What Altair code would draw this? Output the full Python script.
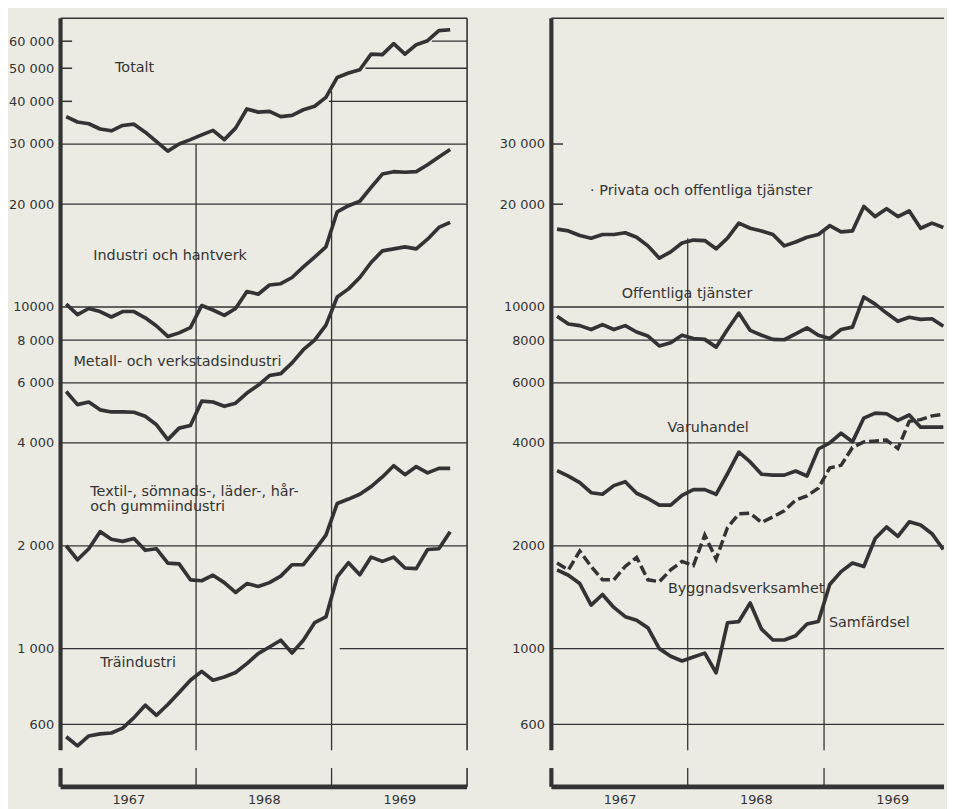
import altair as alt
import pandas as pd

# ---------------- data (monthly, Jan 1967 - Nov 1969) ----------------
n_months = 35
months = [1967 + (i + 0.5) / 12 for i in range(n_months)]

totalt = [36100, 34800, 34400, 33200, 32800, 34000, 34300, 32500, 30500, 28600, 30000, 30900,
          31900, 32900, 30900, 33400, 38000, 37200, 37400, 36100, 36400, 37800, 38700, 41100,
          47000, 48400, 49500, 55000, 54800, 59000, 55000, 58600, 60200, 64400, 64800]
industri = [10200, 9500, 9900, 9700, 9350, 9700, 9700, 9300, 8800, 8200, 8400, 8700,
            10100, 9800, 9450, 9900, 11100, 10900, 11600, 11700, 12200, 13100, 14000, 15000,
            19000, 19800, 20400, 22400, 24500, 24900, 24800, 24900, 26100, 27500, 28900]
metall = [5660, 5180, 5270, 5000, 4930, 4930, 4920, 4790, 4520, 4090, 4420, 4500,
          5300, 5270, 5120, 5230, 5600, 5900, 6300, 6380, 6860, 7500, 8000, 8850,
          10700, 11300, 12200, 13500, 14600, 14800, 15000, 14800, 15800, 17100, 17700]
textil = [2000, 1820, 1960, 2200, 2090, 2060, 2100, 1940, 1960, 1780, 1770, 1590,
          1580, 1640, 1560, 1460, 1550, 1520, 1560, 1630, 1760, 1760, 1940, 2150,
          2660, 2740, 2830, 2980, 3180, 3430, 3230, 3410, 3270, 3370, 3370]
tra = [552, 519, 555, 563, 566, 585, 628, 683, 638, 686, 744, 808,
       858, 808, 826, 851, 904, 967, 1011, 1058, 971, 1058, 1191, 1238,
       1621, 1784, 1645, 1853, 1800, 1853, 1722, 1715, 1950, 1960, 2200]

privata = [16900, 16700, 16200, 15900, 16300, 16300, 16500, 16000, 15100, 13900, 14500, 15400,
           15700, 15650, 14800, 15900, 17600, 17000, 16700, 16300, 15100, 15500, 16000, 16300,
           17300, 16600, 16700, 19700, 18400, 19400, 18400, 19100, 17000, 17600, 17100]
offentliga = [9390, 8920, 8820, 8590, 8880, 8590, 8820, 8450, 8220, 7690, 7860, 8270,
              8090, 8040, 7630, 8590, 9600, 8540, 8270, 8040, 8020, 8340, 8690, 8270,
              8090, 8590, 8730, 10700, 10200, 9600, 9080, 9330, 9200, 9240, 8780]
varuhandel = [3320, 3200, 3060, 2860, 2830, 3000, 3080, 2850, 2750, 2630, 2630, 2810,
              2920, 2920, 2830, 3250, 3760, 3520, 3240, 3220, 3220, 3310, 3200, 3840,
              4000, 4270, 4030, 4730, 4890, 4870, 4660, 4830, 4450, 4450, 4450]
bygg = [1780, 1700, 1930, 1740, 1590, 1590, 1740, 1850, 1590, 1570, 1700, 1800,
        1750, 2150, 1830, 2260, 2480, 2490, 2340, 2430, 2530, 2720, 2800, 2950,
        3380, 3440, 3880, 4030, 4050, 4080, 3850, 4630, 4680, 4800, 4850]
samfardsel = [1700, 1640, 1550, 1340, 1440, 1320, 1240, 1210, 1150, 1000, 950, 920,
              945, 970, 850, 1190, 1200, 1360, 1140, 1060, 1060, 1090, 1180, 1200,
              1540, 1680, 1780, 1740, 2100, 2270, 2130, 2350, 2300, 2170, 1950]

left_series = {"Totalt": totalt, "Industri": industri, "Metall": metall,
               "Textil": textil, "Tra": tra}
right_series = {"Privata": privata, "Offentliga": offentliga, "Varuhandel": varuhandel,
                "Samfardsel": samfardsel}
right_dashed = {"Bygg": bygg}

# tick labels
left_tick_values = [600, 1000, 2000, 4000, 6000, 8000, 10000, 20000, 30000, 40000, 50000, 60000]
left_tick_labels = ["600", "1 000", "2 000", "4 000", "6 000", "8 000", "10000",
                    "20 000", "30 000", "40 000", "50 000", "60 000"]
right_tick_values = [600, 1000, 2000, 4000, 6000, 8000, 10000, 20000, 30000]
right_tick_labels = ["600", "1000", "2000", "4000", "6000", "8000", "10000", "20 000", "30 000"]
year_tick_values = [1967.5, 1968.5, 1969.5]

# series labels: (text, x-year, y-value of first line)
left_labels = [("Totalt", 1967.402, 50100),
               ("Industri och hantverk", 1967.241, 14070),
               ("Metall- och verkstadsindustri", 1967.095, 6920),
               ("Textil-, sömnads-, läder-, hår-\noch gummiindustri", 1967.219, 2870),
               ("Träindustri", 1967.293, 908)]
right_labels = [("· Privata och offentliga tjänster", 1967.284, 21900),
                ("Offentliga tjänster", 1967.516, 10940),
                ("Varuhandel", 1967.851, 4416),
                ("Byggnadsverksamhet", 1967.855, 1497),
                ("Samfärdsel", 1969.036, 1186)]

# ---------------- layout / style ----------------
Y_MIN, Y_MAX = 394, 70000
BRK_HI, BRK_LO = 504, 447
L_X0, L_X1 = 1967, 1970
R_X1 = 1969.88
INK = "#333333"
BG = "#ebebe3"
FONT = "DejaVu Sans"
H = 775


def label_expr(values, labels):
    expr = "''"
    for v, lab in reversed(list(zip(values, labels))):
        expr = f"datum.value == {v} ? '{lab}' : ({expr})"
    return expr


def segments(x1, grid, partial, ticks, year_lines):
    rows = []
    tick_len = 0.085
    rows += [(L_X0, L_X0, Y_MAX, BRK_HI, 4.2), (L_X0, L_X0, BRK_LO, Y_MIN, 4.2),
             (L_X0, x1, Y_MIN, Y_MIN, 4.8), (L_X0, x1, Y_MAX, Y_MAX, 1.6)]
    for v in grid:
        rows.append((L_X0, x1, v, v, 1.3))
    for v, a, b in partial:
        rows.append((a, b, v, v, 1.3))
    for v in ticks:
        rows.append((L_X0, L_X0 + tick_len, v, v, 1.5))
    for xv, top in year_lines:
        rows += [(xv, xv, top, BRK_HI, 1.3), (xv, xv, BRK_LO, Y_MIN, 1.3)]
    return pd.DataFrame(rows, columns=["x", "x2", "y", "y2", "w"])


left_segs = segments(
    L_X1,
    grid=[30000, 20000, 10000, 8000, 6000, 4000, 2000, 600],
    partial=[(60000, 1969.74, 1970), (50000, 1969.25, 1970), (40000, 1968.98, 1970),
             (1000, 1967, 1968.80), (1000, 1969.06, 1970)],
    ticks=[60000, 50000, 40000],
    year_lines=[(1968, 30000), (1969, 42800)],
)
left_segs = pd.concat([left_segs, pd.DataFrame(
    [(L_X1, L_X1, Y_MAX, BRK_HI, 1.6), (L_X1, L_X1, BRK_LO, Y_MIN, 1.6)],
    columns=["x", "x2", "y", "y2", "w"])], ignore_index=True)

right_segs = segments(
    R_X1,
    grid=[10000, 8000, 6000, 4000, 2000, 1000, 600],
    partial=[],
    ticks=[30000, 20000],
    year_lines=[(1968, 15900), (1969, 16700)],
)


def long_df(series):
    rows = []
    for name, vals in series.items():
        for m, v in zip(months, vals):
            rows.append({"series": name, "x": m, "v": v})
    return pd.DataFrame(rows)


def panel(series, dashed, segs, labels, x1, width, tick_values, tick_labels):
    xs = alt.Scale(domain=[L_X0, x1], nice=False, zero=False)
    ys = alt.Scale(type="log", domain=[Y_MIN, Y_MAX], nice=False)
    xaxis = alt.Axis(values=year_tick_values, labelExpr="format(floor(datum.value), 'd')",
                     title=None, domain=False, ticks=False, grid=False, labelFontSize=13,
                     labelFont=FONT, labelColor=INK, labelPadding=7)
    yaxis = alt.Axis(values=tick_values, labelExpr=label_expr(tick_values, tick_labels),
                     title=None, domain=False, ticks=False, grid=False, labelFontSize=13,
                     labelFont=FONT, labelColor=INK, labelPadding=7)

    def X(f):
        return alt.X(f, scale=xs, axis=xaxis)

    def Y(f):
        return alt.Y(f, scale=ys, axis=yaxis)

    rules = alt.Chart(segs).mark_rule(color=INK, strokeCap="butt").encode(
        x=X("x:Q"), x2="x2:Q", y=Y("y:Q"), y2="y2:Q",
        strokeWidth=alt.StrokeWidth("w:Q", scale=None),
    )
    lines = alt.Chart(long_df(series)).mark_line(
        color=INK, strokeWidth=3.7, strokeJoin="round", clip=True
    ).encode(x=X("x:Q"), y=Y("v:Q"), detail="series:N")
    layers = [rules, lines]
    if dashed:
        dl = alt.Chart(long_df(dashed)).mark_line(
            color=INK, strokeWidth=3.5, strokeDash=[10, 4], clip=True
        ).encode(x=X("x:Q"), y=Y("v:Q"), detail="series:N")
        layers.append(dl)
    ldf = pd.DataFrame(labels, columns=["text", "x", "y"])
    txt = alt.Chart(ldf).mark_text(
        align="left", baseline="middle", font=FONT, fontSize=14.5, color=INK,
        lineBreak="\n", lineHeight=15
    ).encode(x=X("x:Q"), y=Y("y:Q"), text="text:N")
    layers.append(txt)
    return alt.layer(*layers).properties(width=width, height=H)


left = panel(left_series, None, left_segs, left_labels, L_X1, 410,
             left_tick_values, left_tick_labels)
right = panel(right_series, right_dashed, right_segs, right_labels, R_X1, 396,
              right_tick_values, right_tick_labels)

chart = alt.hconcat(left, right, spacing=29).properties(
    background=BG,
    padding={"left": 0, "top": 4, "right": 0, "bottom": 0},
).configure_view(stroke=None)

chart.save("out.html", embed_options={"renderer": "svg", "actions": False})
